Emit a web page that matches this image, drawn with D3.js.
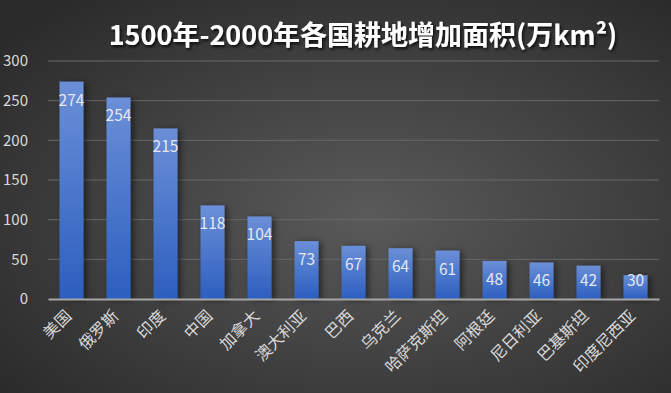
<!DOCTYPE html>
<html lang="zh">
<head>
<meta charset="UTF-8">
<title>1500年-2000年各国耕地增加面积</title>
<script src="https://d3js.org/d3.v7.min.js"></script>
<style>
  html, body { margin: 0; padding: 0; background: #333; }
  svg { display: block; }
</style>
</head>
<body>
<script>
// data
var countries = ["美国", "俄罗斯", "印度", "中国", "加拿大", "澳大利亚", "巴西", "乌克兰", "哈萨克斯坦", "阿根廷", "尼日利亚", "巴基斯坦", "印度尼西亚"];
var areas = [274, 254, 215, 118, 104, 73, 67, 64, 61, 48, 46, 42, 30];
var yTicks = [0, 50, 100, 150, 200, 250, 300];

var W = 671, H = 393;
var plotL = 48, plotR = 659, plotT = 61, plotB = 299;
var font = "'Noto Sans CJK SC', 'Noto Sans', sans-serif";

var svg = d3.select("body").append("svg")
    .attr("width", W)
    .attr("height", H);

var defs = svg.append("defs");
var bg = defs.append("radialGradient").attr("id", "bg")
    .attr("cx", "55%").attr("cy", "55%").attr("r", "70%");
bg.append("stop").attr("offset", "0%").attr("stop-color", "#5a5a5a");
bg.append("stop").attr("offset", "100%").attr("stop-color", "#2b2b2b");

var bar = defs.append("linearGradient").attr("id", "bar")
    .attr("x1", 0).attr("y1", 0).attr("x2", 0).attr("y2", 1);
bar.append("stop").attr("offset", "0%").attr("stop-color", "#6b8fd8");
bar.append("stop").attr("offset", "100%").attr("stop-color", "#2c5fbf");

var shadow = defs.append("filter").attr("id", "shadow")
    .attr("x", "-30%").attr("y", "-10%").attr("width", "180%").attr("height", "130%");
shadow.append("feDropShadow").attr("dx", 3).attr("dy", 1).attr("stdDeviation", 3)
    .attr("flood-color", "#000").attr("flood-opacity", 0.5);

var tshadow = defs.append("filter").attr("id", "tshadow");
tshadow.append("feDropShadow").attr("dx", 1.5).attr("dy", 2).attr("stdDeviation", 1.5)
    .attr("flood-color", "#000").attr("flood-opacity", 0.8);

svg.append("rect").attr("width", W).attr("height", H).attr("fill", "url(#bg)");

var x = d3.scaleBand().domain(countries).range([plotL, plotR]).paddingInner(0.49).paddingOuter(0.245);
var y = d3.scaleLinear().domain([0, 300]).range([plotB, plotT]);

// gridlines
svg.append("g").selectAll("line")
  .data(yTicks.slice(1))
  .enter().append("line")
    .attr("x1", plotL).attr("x2", plotR)
    .attr("y1", d => y(d)).attr("y2", d => y(d))
    .attr("stroke", "#686868").attr("stroke-width", 1);

// y axis labels
var yAxis = svg.append("g")
    .attr("transform", "translate(" + plotL + ",0)")
    .call(d3.axisLeft(y).tickValues(yTicks).tickSize(0).tickPadding(20));
yAxis.select(".domain").remove();
yAxis.selectAll("text")
    .attr("fill", "#d9d9d9").attr("font-size", 15).attr("font-family", font);

// bars
svg.append("g").selectAll("rect")
  .data(areas)
  .enter().append("rect")
    .attr("x", (d, i) => x(countries[i]))
    .attr("y", d => y(d))
    .attr("width", x.bandwidth())
    .attr("height", d => y(0) - y(d))
    .attr("fill", "url(#bar)")
    .attr("filter", "url(#shadow)");

// value labels (inside end, pushed up a bit when the bar is short)
svg.append("g").selectAll("text")
  .data(areas)
  .enter().append("text")
    .attr("x", (d, i) => x(countries[i]) + x.bandwidth() / 2)
    .attr("y", d => Math.min(y(d) + 24, plotB - 13))
    .attr("text-anchor", "middle")
    .attr("fill", "#e4e8f0")
    .attr("font-size", 15.5)
    .attr("font-family", font)
    .text(d => d);

// x axis
var xAxis = svg.append("g")
    .attr("transform", "translate(0," + plotB + ")")
    .call(d3.axisBottom(x).tickSize(0).tickPadding(0));
xAxis.select(".domain").attr("stroke", "#a6a6a6").attr("stroke-width", 2);
xAxis.selectAll("text")
    .attr("fill", "#d9d9d9").attr("font-size", 16).attr("font-family", font)
    .attr("text-anchor", "end")
    .attr("dy", 0)
    .attr("transform", "translate(1,18) rotate(-45)");

// title
svg.append("text")
    .attr("x", 363).attr("y", 45)
    .attr("text-anchor", "middle")
    .attr("fill", "#ffffff")
    .attr("font-size", 27)
    .attr("font-weight", "bold")
    .attr("font-family", font)
    .attr("filter", "url(#tshadow)")
    .text("1500年-2000年各国耕地增加面积(万km²)");
</script>
</body>
</html>
